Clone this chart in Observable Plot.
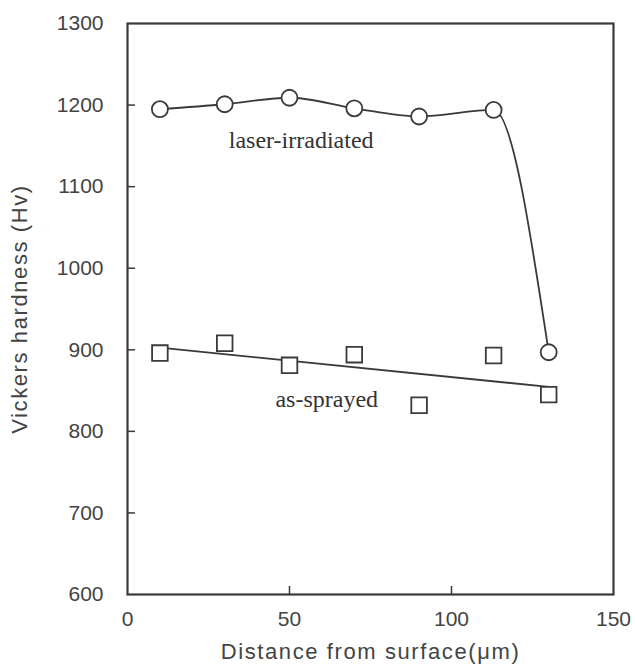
<!DOCTYPE html>
<html>
<head>
<meta charset="utf-8">
<script src="https://cdn.jsdelivr.net/npm/d3@7"></script>
<script src="https://cdn.jsdelivr.net/npm/@observablehq/plot@0.6"></script>
<style>
  body { margin: 0; background: #fff; }
  #chart svg { display: block; }
  #chart svg g[aria-label="y-axis label"] text,
  #chart svg g[aria-label="x-axis label"] text { font-size: 22px; letter-spacing: 1.6px; }
</style>
</head>
<body>
<div id="chart"></div>
<script>
const distance = [10, 30, 50, 70, 90, 113, 130];
const laserIrradiated = [1195, 1201, 1209, 1196, 1186, 1194, 897];
const asSprayed = [896, 908, 881, 894, 832, 893, 845];
const yTickValues = [600, 700, 800, 900, 1000, 1100, 1200, 1300];
const xTickValues = [0, 50, 100, 150];
const yInnerTicks = [700, 800, 900, 1000, 1100, 1200];
const xInnerTicks = [50, 100];
const annotations = [
  {x: 53.6, y: 1147, text: "laser-irradiated"},
  {x: 61.5, y: 830, text: "as-sprayed"}
];

const laser = distance.map((d, i) => ({x: d, y: laserIrradiated[i]}));
const sprayed = distance.map((d, i) => ({x: d, y: asSprayed[i]}));

const ink = "#3a3a3a";

const chart = Plot.plot({
  width: 635,
  height: 671,
  marginLeft: 127,
  marginRight: 22,
  marginTop: 23,
  marginBottom: 77,
  style: {fontFamily: "'Liberation Sans', Arial, sans-serif", fontSize: "21px", color: "#444", background: "#fff"},
  x: {domain: [0, 150]},
  y: {domain: [600, 1300]},
  marks: [
    Plot.axisY({ticks: yTickValues, tickSize: 0, tickPadding: 24, tickFormat: d => String(d),
      label: "Vickers hardness (Hv)", labelAnchor: "center", labelArrow: "none", labelOffset: 116, fill: "#444"}),
    Plot.axisY({ticks: yInnerTicks, tickSize: 8, dx: 8, text: null, label: null, stroke: ink, strokeWidth: 1.5}),
    Plot.axisX({ticks: xTickValues, tickSize: 0, tickPadding: 17, tickFormat: d => String(d),
      label: "Distance from surface(μm)", labelAnchor: "center", labelArrow: "none", labelOffset: 64, fill: "#444"}),
    Plot.axisX({ticks: xInnerTicks, tickSize: 8, dy: -8, text: null, label: null, stroke: ink, strokeWidth: 1.5}),
    Plot.frame({stroke: ink, strokeWidth: 2.2}),
    Plot.line(laser, {x: "x", y: "y", curve: "monotone-x", stroke: ink, strokeWidth: 1.8}),
    Plot.dot(laser, {x: "x", y: "y", r: 8, symbol: "circle", fill: "#fff", stroke: ink, strokeWidth: 1.8}),
    Plot.linearRegressionY(sprayed, {x: "x", y: "y", ci: 0, stroke: ink, strokeWidth: 1.8}),
    Plot.dot(sprayed, {x: "x", y: "y", r: 8.8, symbol: "square", fill: "#fff", stroke: ink, strokeWidth: 1.8}),
    Plot.text(annotations, {x: "x", y: "y", text: "text", fontFamily: "'Liberation Serif', 'Times New Roman', serif",
      fontSize: 24, fill: "#333", lineAnchor: "bottom", textAnchor: "middle"})
  ]
});
document.getElementById("chart").append(chart);
</script>
</body>
</html>
